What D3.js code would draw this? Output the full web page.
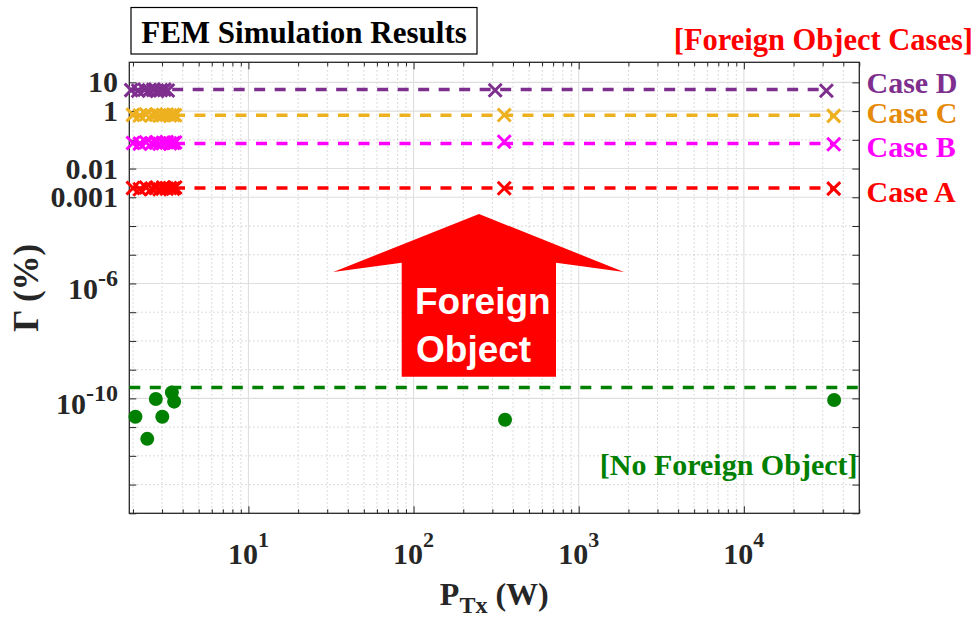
<!DOCTYPE html>
<html>
<head>
<meta charset="utf-8">
<script src="https://cdn.jsdelivr.net/npm/d3@7"></script>
<style>
  body { margin: 0; background: #fff; }
  svg { display: block; }
</style>
</head>
<body>
<svg id="chart" width="978" height="620"></svg>
<script>
// ---- data: leakage ratio Γ (%) versus transmitted power P_Tx (W) ----
const caseNames = ["Case A", "Case B", "Case C", "Case D"];
const caseColors = ["#FF0000", "#FF00FF", "#EDB120", "#7E2F8E"];
const caseLabelColors = ["#FF0000", "#FF00FF", "#E68A0A", "#7E2F8E"];

const ptxCaseABC = [2.0, 2.2, 2.4, 2.6, 2.75, 2.9, 3.05, 3.2, 3.35, 3.5, 3.6, 354, 35000];
const ptxCaseD   = [1.95, 2.15, 2.35, 2.5, 2.65, 2.8, 2.95, 3.1, 3.25, 312, 31600];

const gammaCaseA = [0.0021, 0.0019, 0.0022, 0.0020, 0.0021, 0.0019, 0.0022, 0.0020, 0.0021, 0.0020, 0.0022, 0.00206, 0.0020];
const gammaCaseB = [0.078, 0.074, 0.082, 0.076, 0.080, 0.073, 0.079, 0.083, 0.075, 0.078, 0.081, 0.086, 0.070];
const gammaCaseC = [0.74, 0.70, 0.77, 0.72, 0.75, 0.69, 0.73, 0.76, 0.71, 0.74, 0.72, 0.73, 0.68];
const gammaCaseD = [5.4, 5.1, 5.6, 5.3, 5.5, 5.0, 5.4, 5.6, 5.2, 5.3, 5.1];

// dashed level drawn through each case
const caseLevels = [0.0021, 0.075, 0.72, 5.6];

// no foreign object
const ptxNoFO   = [2.07, 2.44, 2.75, 3.01, 3.44, 3.55, 358, 35200];
const gammaNoFO = [2.3e-11, 3.9e-12, 9.5e-11, 2.3e-11, 1.6e-10, 7.7e-11, 1.8e-11, 8.8e-11];
const noFOLevel = 2.4e-10;

// axes
const xDomain = [1.9, 5e4];
const yDomain = [1e-14, 50];
const xTickValues = [10, 100, 1000, 10000];
const xTickText = ["10^1", "10^2", "10^3", "10^4"];
const yTickValues = [1e-10, 1e-6, 0.001, 0.01, 1, 10];
const yTickText = ["10^-10", "10^-6", "0.001", "0.01", "1", "10"];

// ---- layout ----
const svg = d3.select("#chart");
const plot = { left: 129.3, right: 859.3, top: 62.3, bottom: 513.3 };
const serif = "'Liberation Serif', 'Times New Roman', serif";
const sans = "'Liberation Sans', Arial, sans-serif";
const axisColor = "#262626";

const x = d3.scaleLog().domain(xDomain).range([plot.left, plot.right]);
const y = d3.scaleLog().domain(yDomain).range([plot.bottom, plot.top]);

// decade positions
const yDecades = d3.range(-14, 2).map(e => Math.pow(10, e));
const xAll = [];
for (let d = 0; d <= 4; d++) {
  for (let k = 1; k <= 9; k++) {
    const v = k * Math.pow(10, d);
    if (v >= xDomain[0] && v <= xDomain[1]) xAll.push(v);
  }
}
const xMinor = xAll.filter(v => !xTickValues.includes(v));
const yMinor = yDecades.filter(v => !yTickValues.some(t => Math.abs(Math.log10(t) - Math.log10(v)) < 1e-6) && v > yDomain[0]);

// ---- grid ----
const grid = svg.append("g");
grid.selectAll(".gxm").data(xMinor).join("line")
  .attr("x1", d => x(d)).attr("x2", d => x(d))
  .attr("y1", plot.top).attr("y2", plot.bottom)
  .attr("stroke", "#bdbdbd").attr("stroke-width", 0.9).attr("stroke-dasharray", "1.2,2.8");
grid.selectAll(".gym").data(yMinor).join("line")
  .attr("x1", plot.left).attr("x2", plot.right)
  .attr("y1", d => y(d)).attr("y2", d => y(d))
  .attr("stroke", "#bdbdbd").attr("stroke-width", 0.9).attr("stroke-dasharray", "1.2,2.8");
grid.selectAll(".gxM").data(xTickValues).join("line")
  .attr("x1", d => x(d)).attr("x2", d => x(d))
  .attr("y1", plot.top).attr("y2", plot.bottom)
  .attr("stroke", "#dedede").attr("stroke-width", 1.1);
grid.selectAll(".gyM").data(yTickValues).join("line")
  .attr("x1", plot.left).attr("x2", plot.right)
  .attr("y1", d => y(d)).attr("y2", d => y(d))
  .attr("stroke", "#dedede").attr("stroke-width", 1.1);

// ---- axes (ticks point inward, box on) ----
function tickAxis(axis, transform, values, size) {
  svg.append("g").attr("transform", transform)
    .call(axis.tickValues(values).tickSizeInner(size).tickSizeOuter(0).tickFormat(""))
    .call(g => g.select(".domain").remove())
    .call(g => g.selectAll(".tick line").attr("stroke", axisColor).attr("stroke-width", 1));
}
tickAxis(d3.axisBottom(x), `translate(0,${plot.bottom})`, xTickValues, -7);
tickAxis(d3.axisBottom(x), `translate(0,${plot.bottom})`, xMinor, -4);
tickAxis(d3.axisTop(x), `translate(0,${plot.top})`, xTickValues, -7);
tickAxis(d3.axisTop(x), `translate(0,${plot.top})`, xMinor, -4);
tickAxis(d3.axisLeft(y), `translate(${plot.left},0)`, yDecades, -7);
tickAxis(d3.axisRight(y), `translate(${plot.right},0)`, yDecades, -7);

svg.append("rect")
  .attr("x", plot.left).attr("y", plot.top)
  .attr("width", plot.right - plot.left).attr("height", plot.bottom - plot.top)
  .attr("fill", "none").attr("stroke", axisColor).attr("stroke-width", 1.3);

// ---- tick labels ----
function powerLabel(sel, txt, expSize, raise) {
  const parts = txt.split("^");
  sel.append("tspan").text(parts[0]);
  if (parts.length > 1) {
    sel.append("tspan").attr("font-size", expSize).attr("dy", -raise).text(parts[1]);
  }
}
xTickValues.forEach((v, i) => {
  const t = svg.append("text")
    .attr("x", x(v)).attr("y", 563.5)
    .attr("text-anchor", "middle")
    .attr("font-family", serif).attr("font-weight", "bold").attr("font-size", 30)
    .attr("fill", axisColor);
  powerLabel(t, xTickText[i], 22, 17);
});
yTickValues.forEach((v, i) => {
  const sup = yTickText[i].includes("^");
  const t = svg.append("text")
    .attr("x", 118).attr("y", y(v) + (sup ? 15.5 : 10))
    .attr("text-anchor", "end")
    .attr("font-family", serif).attr("font-weight", "bold").attr("font-size", 30)
    .attr("fill", axisColor);
  powerLabel(t, yTickText[i], 24, 12.5);
});

// ---- axis titles ----
const xTitle = svg.append("text")
  .attr("x", plot.left + (plot.right - plot.left) / 2).attr("y", 605)
  .attr("text-anchor", "middle")
  .attr("font-family", serif).attr("font-weight", "bold").attr("font-size", 32)
  .attr("fill", axisColor);
xTitle.append("tspan").text("P");
xTitle.append("tspan").attr("font-size", 24).attr("dy", 8).text("Tx");
xTitle.append("tspan").attr("dy", -8).text(" (W)");

svg.append("text")
  .attr("transform", `translate(38,${(plot.top + plot.bottom) / 2}) rotate(-90)`)
  .attr("text-anchor", "middle")
  .attr("font-family", serif).attr("font-weight", "bold").attr("font-size", 35)
  .attr("fill", axisColor)
  .text("Γ (%)");

// ---- no foreign object series ----
const green = "#008000";
svg.append("line")
  .attr("x1", x(xDomain[0])).attr("x2", x(xDomain[1]))
  .attr("y1", y(noFOLevel)).attr("y2", y(noFOLevel))
  .attr("stroke", green).attr("stroke-width", 3.5).attr("stroke-dasharray", "11,9.5");
svg.selectAll(".nofo").data(ptxNoFO.map((p, i) => [p, gammaNoFO[i]])).join("circle")
  .attr("cx", d => x(d[0])).attr("cy", d => y(d[1])).attr("r", 7)
  .attr("fill", green);

// ---- foreign object cases ----
const caseSeries = [
  { p: ptxCaseABC, g: gammaCaseA },
  { p: ptxCaseABC, g: gammaCaseB },
  { p: ptxCaseABC, g: gammaCaseC },
  { p: ptxCaseD, g: gammaCaseD }
];
const mk = 6.5;
caseSeries.forEach((s, ci) => {
  const col = caseColors[ci];
  svg.append("line")
    .attr("x1", x(s.p[0])).attr("x2", x(s.p[s.p.length - 1]))
    .attr("y1", y(caseLevels[ci])).attr("y2", y(caseLevels[ci]))
    .attr("stroke", col).attr("stroke-width", 3.5).attr("stroke-dasharray", "11,9.5");
  const pts = s.p.map((p, i) => [x(p), y(s.g[i])]);
  svg.append("g").selectAll("path").data(pts).join("path")
    .attr("d", d => `M${d[0] - mk},${d[1] - mk}L${d[0] + mk},${d[1] + mk}M${d[0] - mk},${d[1] + mk}L${d[0] + mk},${d[1] - mk}`)
    .attr("stroke", col).attr("stroke-width", 3).attr("fill", "none");
});

// case labels at the right of the axes
const caseLabelY = [202, 156.5, 123, 93];
caseNames.forEach((n, i) => {
  svg.append("text")
    .attr("x", 866.5).attr("y", caseLabelY[i])
    .attr("font-family", serif).attr("font-weight", "bold").attr("font-size", 30)
    .attr("fill", caseLabelColors[i]).text(n);
});

svg.append("text")
  .attr("x", 973).attr("y", 50).attr("text-anchor", "end")
  .attr("font-family", serif).attr("font-weight", "bold").attr("font-size", 30.5)
  .attr("fill", "#FF0000").text("[Foreign Object Cases]");

svg.append("text")
  .attr("x", 857.5).attr("y", 475).attr("text-anchor", "end")
  .attr("font-family", serif).attr("font-weight", "bold").attr("font-size", 30)
  .attr("fill", green).text("[No Foreign Object]");

// ---- title box ----
svg.append("rect")
  .attr("x", 131).attr("y", 7.5).attr("width", 346).attr("height", 46.5)
  .attr("fill", "#fff").attr("stroke", "#000").attr("stroke-width", 1.2);
svg.append("text")
  .attr("x", 304).attr("y", 42.7).attr("text-anchor", "middle")
  .attr("font-family", serif).attr("font-weight", "bold").attr("font-size", 31)
  .attr("fill", "#000").text("FEM Simulation Results");

// ---- annotation arrow ----
const arrow = [[479, 214], [624, 272], [556, 262.7], [556, 376.7], [401.7, 376.7], [401.7, 262.7], [333.3, 272]];
svg.append("path")
  .attr("d", d3.line()(arrow) + "Z")
  .attr("fill", "#FF0000");
const at = svg.append("text")
  .attr("font-family", sans).attr("font-weight", "bold").attr("font-size", 37)
  .attr("fill", "#fff");
at.append("tspan").attr("x", 415).attr("y", 313.5).text("Foreign");
at.append("tspan").attr("x", 416).attr("y", 361.5).text("Object");
</script>
</body>
</html>
